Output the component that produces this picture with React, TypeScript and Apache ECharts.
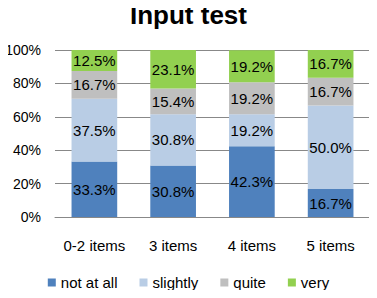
import React, { useEffect, useRef } from "react";
import * as echarts from "echarts";

const categories = ["0-2 items", "3 items", "4 items", "5 items"];
const notAtAll = [33.3, 30.8, 42.3, 16.7];
const slightly = [37.5, 30.8, 19.2, 50.0];
const quite = [16.7, 15.4, 19.2, 16.7];
const very = [12.5, 23.1, 19.2, 16.7];
const seriesNames = ["not at all", "slightly", "quite", "very"];
const colors = ["#4F81BD", "#B9CDE5", "#BFBFBF", "#92D050"];

const FONT = "Liberation Sans, DejaVu Sans, sans-serif";

export default function App() {
  const ref = useRef<HTMLDivElement>(null);
  useEffect(() => {
    const chart = echarts.init(ref.current!, null, { renderer: "svg" });
    const data = [notAtAll, slightly, quite, very];
    chart.setOption({
      animation: false,
      textStyle: { fontFamily: FONT },
      title: {
        text: "Input test",
        left: "center",
        top: -3,
        textStyle: { fontSize: 26, fontWeight: "bold", color: "#000", fontFamily: FONT },
      },
      grid: { left: 55, right: 7, top: 50, bottom: 81, containLabel: false },
      legend: {
        bottom: 3,
        left: "center",
        itemWidth: 8,
        itemHeight: 8,
        itemGap: 22,
        icon: "rect",
        textStyle: { fontSize: 15, color: "#000", fontFamily: FONT },
        data: seriesNames,
      },
      xAxis: {
        type: "category",
        data: categories,
        axisLine: { show: true, lineStyle: { color: "#888", width: 1 } },
        axisTick: { show: false },
        axisLabel: { fontSize: 15, color: "#000", margin: 21, interval: 0, fontFamily: FONT },
      },
      yAxis: {
        type: "value",
        min: 0,
        max: 100,
        interval: 20,
        axisLine: { show: false },
        axisTick: { show: false },
        splitLine: { lineStyle: { color: "#888", width: 1 } },
        axisLabel: {
          fontSize: 14,
          color: "#000",
          margin: 14,
          formatter: "{value}%",
          fontFamily: FONT,
        },
      },
      series: seriesNames.map((name, i) => ({
        name,
        type: "bar",
        stack: "total",
        barWidth: "58%",
        data: data[i],
        itemStyle: { color: colors[i] },
        label: {
          show: true,
          position: "inside",
          formatter: (p: any) => p.value.toFixed(1) + "%",
          fontSize: 15,
          color: "#000",
          fontFamily: FONT,
        },
      })),
    });
    return () => chart.dispose();
  }, []);
  return <div ref={ref} style={{ width: 377, height: 298, margin: -8 }} />;
}
